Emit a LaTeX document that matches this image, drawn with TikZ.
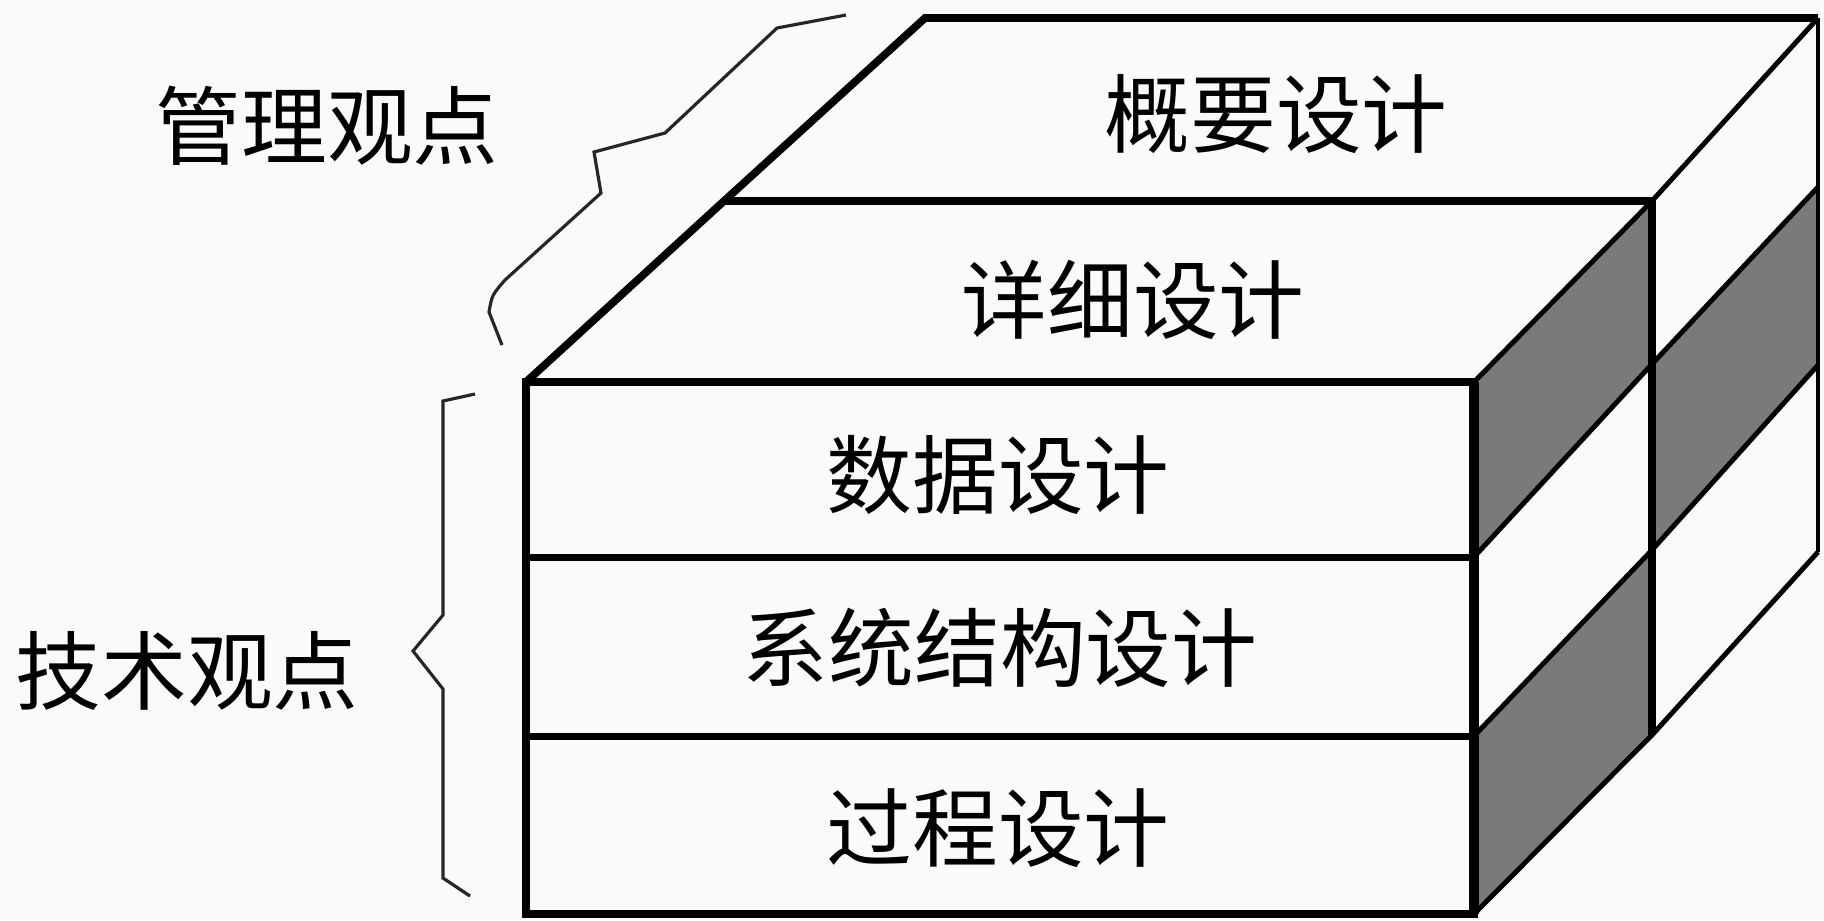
\documentclass[tikz,border=0pt]{standalone}
\usepackage{fontspec}
\newfontfamily\cjk{Noto Sans CJK SC}
\begin{document}
\begin{tikzpicture}[x=0.01cm,y=-0.01cm,
  thickline/.style={line width=2.2pt,line join=miter},
  midline/.style={line width=1.4pt},
  shade/.style={fill=black!52},
  bracel/.style={line width=0.9pt,black!85},
  lbl/.style={font=\cjk\fontsize{24.4}{28}\selectfont,inner sep=0pt}]
\fill[white!98!black] (0,0) rectangle (1824,920);
\useasboundingbox (0,0) rectangle (1824,920);
% coordinates
\coordinate (F0) at (526,382);
\coordinate (F1) at (1474,382);
\coordinate (F2) at (1474,914);
\coordinate (F3) at (526,914);
\coordinate (R1L) at (526,557);
\coordinate (R1R) at (1474,557);
\coordinate (R2L) at (526,736);
\coordinate (R2R) at (1474,736);
\coordinate (M0) at (724,201);
\coordinate (B0) at (925,18);
% right face columns
\coordinate (b1) at (1652,201);
\coordinate (b2) at (1652,364);
\coordinate (b3) at (1652,550);
\coordinate (b4) at (1652,735);
\coordinate (d1) at (1818,18);
\coordinate (d2) at (1818,187);
\coordinate (d3) at (1818,365);
\coordinate (d4) at (1818,552);
% shading
\fill[shade] (F1) -- (b1) -- (b2) -- (R1R) -- cycle;
\fill[shade] (R2R) -- (b3) -- (b4) -- (F2) -- cycle;
\fill[shade] (b2) -- (d2) -- (d3) -- (b3) -- cycle;
% right face lines
\draw[midline] (F1) -- (b1) -- (d1);
\draw[midline] (R1R) -- (b2) -- (d2);
\draw[midline] (R2R) -- (b3) -- (d3);
\draw[midline] (F2) -- (b4) -- (d4);
\draw[line width=1.1pt] (d1) -- (d4);
\draw[line width=2.4pt] (b1) -- (b4);
% top face
\draw[thickline] (F0) -- (M0) -- (B0) -- (d1);
\draw[thickline] (M0) -- (b1);
% front face
\draw[thickline] (F0) rectangle (F2);
\draw[line width=2.9pt] (F1) -- (F2);
\draw[line width=2pt] (R1L) -- (R1R);
\draw[line width=2pt] (R2L) -- (R2R);
% braces
\coordinate (t0) at (475,394);
\coordinate (t1) at (443,401);
\coordinate (t2) at (443,615);
\coordinate (t3) at (413,651);
\coordinate (t4) at (443,689);
\coordinate (t5) at (443,878);
\coordinate (t6) at (470,896);
\draw[bracel] (t0) -- (t1) -- (t2) -- (t3) -- (t4) -- (t5) -- (t6);
\coordinate (m0) at (846,15);
\coordinate (m1) at (777,28);
\coordinate (m2) at (665,133);
\coordinate (m3) at (594,152);
\coordinate (m4) at (601,193);
\coordinate (m5) at (505,280);
\coordinate (m6) at (489,312);
\coordinate (m7) at (502,345);
\draw[bracel] (m0) -- (m1) -- (m2) -- (m3) -- (m4) -- (m5) .. controls (492,295) .. (m6) -- (m7);
% labels
\node[lbl] (gaiyao) at (1276,114) {概要设计};
\node[lbl] (xiangxi) at (1133,300) {详细设计};
\node[lbl] (shuju) at (998,475) {数据设计};
\node[lbl] (xitong) at (1000,648) {系统结构设计};
\node[lbl] (guocheng) at (998,828) {过程设计};
\node[lbl] (guanli) at (327,126) {管理观点};
\node[lbl] (jishu) at (187,671) {技术观点};
\end{tikzpicture}
\end{document}
